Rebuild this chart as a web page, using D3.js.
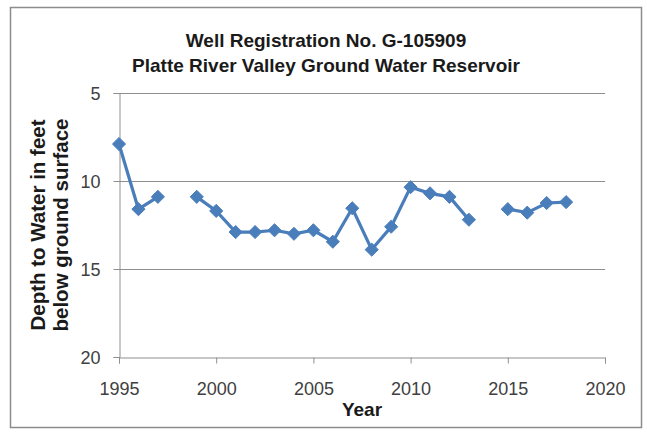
<!DOCTYPE html>
<html>
<head>
<meta charset="utf-8">
<script src="https://cdn.jsdelivr.net/npm/d3@7"></script>
<style>
  body{margin:0;background:#fff;}
  text{font-family:"Liberation Sans",Arial,sans-serif;}
</style>
</head>
<body>
<div id="grafica"></div>
<script>
// datos (null = sin medicion)
var anios=[1995,1996,1997,1998,1999,2000,2001,2002,2003,2004,2005,2006,2007,2008,2009,2010,2011,2012,2013,2014,2015,2016,2017,2018];
var profundidad=[7.9,11.6,10.9,null,10.9,11.7,12.9,12.9,12.8,13.0,12.8,13.45,11.55,13.9,12.6,10.35,10.7,10.9,12.2,null,11.6,11.8,11.25,11.2];
var ticksX=[1995,2000,2005,2010,2015,2020];
var ticksY=[5,10,15,20];
var titulo=["Well Registration No. G-105909","Platte River Valley Ground Water Reservoir"];
var tituloY=["Depth to Water in feet","below ground surface"];

var ancho=647, alto=434;
var margin={top:93,left:119,right:42,bottom:77};

var svg=d3.select("#grafica").append("svg")
	.attr("width",ancho).attr("height",alto);

// marco exterior
svg.append("rect").attr("x",10.5).attr("y",7.5).attr("width",631).attr("height",420)
	.style("fill","#fff").style("stroke","#8c8c8c").style("stroke-width",1.5);

var x=d3.scaleLinear().domain([1995,2020]).range([margin.left,ancho-margin.right]);
var y=d3.scaleLinear().domain([5,20]).range([margin.top,alto-margin.bottom]);

// lineas de grilla
svg.selectAll(".grid").data(ticksY.slice(0,3)).enter().append("line")
	.attr("x1",x(1995)).attr("x2",x(2020))
	.attr("y1",d=>y(d)+.5).attr("y2",d=>y(d)+.5)
	.style("stroke","#8f8f8f").style("stroke-width",1);

// eje y
var ejeY=svg.append("g").attr("transform",`translate(${x(1995)+.5},0)`)
	.call(d3.axisLeft(y).tickValues(ticksY).tickSize(6).tickPadding(13).tickFormat(d3.format("d")));
ejeY.select(".domain").style("stroke","#8f8f8f");
ejeY.selectAll(".tick line").style("stroke","#8f8f8f");
ejeY.selectAll(".tick text").style("font-size","18px").style("fill","#404040").attr("dy","0.36em");

// eje x
var ejeX=svg.append("g").attr("transform",`translate(0,${y(20)+.5})`)
	.call(d3.axisBottom(x).tickValues(ticksX).tickSize(6).tickPadding(19).tickFormat(d3.format("d")));
ejeX.select(".domain").style("stroke","#8f8f8f");
ejeX.selectAll(".tick line").style("stroke","#8f8f8f");
ejeX.selectAll(".tick text").style("font-size","18px").style("fill","#404040");

var data=anios.map((a,i)=>({anio:a,valor:profundidad[i]}));

var linea=d3.line().defined(d=>d.valor!=null).x(d=>x(d.anio)).y(d=>y(d.valor));

svg.append("path").datum(data).attr("d",linea)
	.style("fill","none").style("stroke","#4a7ebb").style("stroke-width",3.2);

svg.selectAll(".marcas").data(data.filter(d=>d.valor!=null)).enter().append("path")
	.attr("class","marcas")
	.attr("d",d3.symbol().type(d3.symbolDiamond2).size(110))
	.attr("transform",d=>`translate(${x(d.anio)},${y(d.valor)})`)
	.style("fill","#4a7ebb").style("stroke","#4a7ebb").style("stroke-width",1);

// titulos (centrados en el area del grafico)
svg.selectAll(".titulo").data(titulo).enter().append("text")
	.attr("x",326).attr("y",(d,i)=>47+i*25)
	.style("text-anchor","middle").style("font-size","19px").style("font-weight","bold").style("fill","#1a1a1a")
	.text(d=>d);

var cx=(x(1995)+x(2020))/2;
svg.append("text").attr("x",cx).attr("y",416)
	.style("text-anchor","middle").style("font-size","19px").style("font-weight","bold").style("fill","#1a1a1a")
	.text("Year");

var cy=(y(5)+y(20))/2;
svg.selectAll(".tituloY").data(tituloY).enter().append("text")
	.attr("transform",(d,i)=>`translate(${45+i*23},${cy}) rotate(-90)`)
	.style("text-anchor","middle").style("font-size","20.5px").style("font-weight","bold").style("fill","#1a1a1a")
	.text(d=>d);
</script>
</body>
</html>
